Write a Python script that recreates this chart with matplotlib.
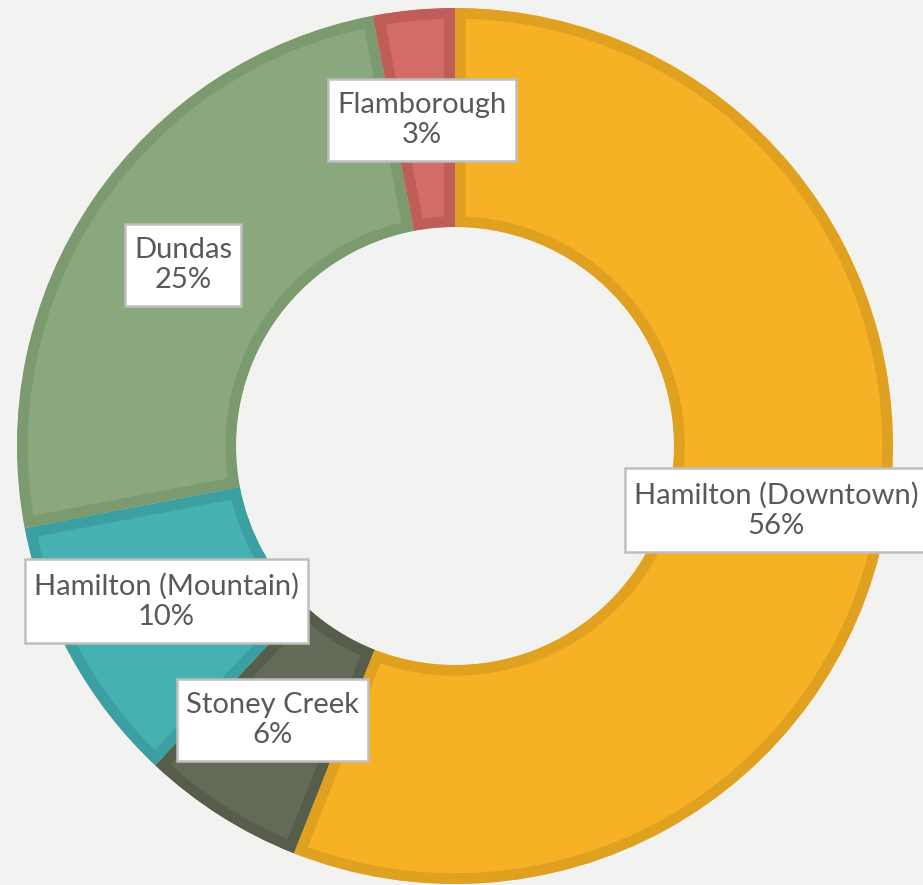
import matplotlib
matplotlib.use("Agg")
import matplotlib.pyplot as plt
from matplotlib.patches import Wedge
from matplotlib.path import Path

labels = ["Hamilton (Downtown)", "Stoney Creek", "Hamilton (Mountain)", "Dundas", "Flamborough"]
values = [56, 6, 10, 25, 3]
fills = ["#F7B125", "#636A57", "#45B1B3", "#8AA87E", "#D36C66"]
edges = ["#E0A020", "#575D4B", "#3C9FA2", "#7C9A70", "#BF5D59"]
label_pos = [(776, 510), (272, 720), (166, 601), (183, 265), (422, 120)]

W, H = 923, 885
fig = plt.figure(figsize=(W / 100, H / 100), dpi=100)
fig.patch.set_facecolor("#F2F2F0")
ax = fig.add_axes([0, 0, 1, 1])
ax.set_facecolor("#F2F2F0")
ax.set_xlim(0, W)
ax.set_ylim(0, H)
ax.set_aspect("equal")
ax.axis("off")

cx, cy = 455, H - 446
R, width = 438, 219
total = float(sum(values))
start = 90.0
for v, fc, ec in zip(values, fills, edges):
    sweep = 360.0 * v / total
    w = Wedge((cx, cy), R, start - sweep, start, width=width,
              facecolor=fc, edgecolor=ec, linewidth=15.5)
    ax.add_patch(w)
    w.set_clip_path(w)
    start -= sweep


def label_box(x0, y0, width, height, mutation_size):
    padx, pady = 9, 13
    x0, x1 = x0 - padx, x0 + width + padx
    y0, y1 = y0 - pady, y0 + height + pady
    return Path([(x0, y0), (x1, y0), (x1, y1), (x0, y1), (x0, y0)], closed=True)


for lab, v, (px, py) in zip(labels, values, label_pos):
    ax.text(px, H - py, f"{lab}\n{v}%", ha="center", va="center", fontsize=21,
            color="#595959", linespacing=1.2, family=['Lato', 'DejaVu Sans'],
            bbox=dict(boxstyle=label_box, facecolor="white",
                      edgecolor="#BFBFBF", linewidth=1.8))

fig.savefig("out.png", dpi=100, facecolor=fig.get_facecolor())
